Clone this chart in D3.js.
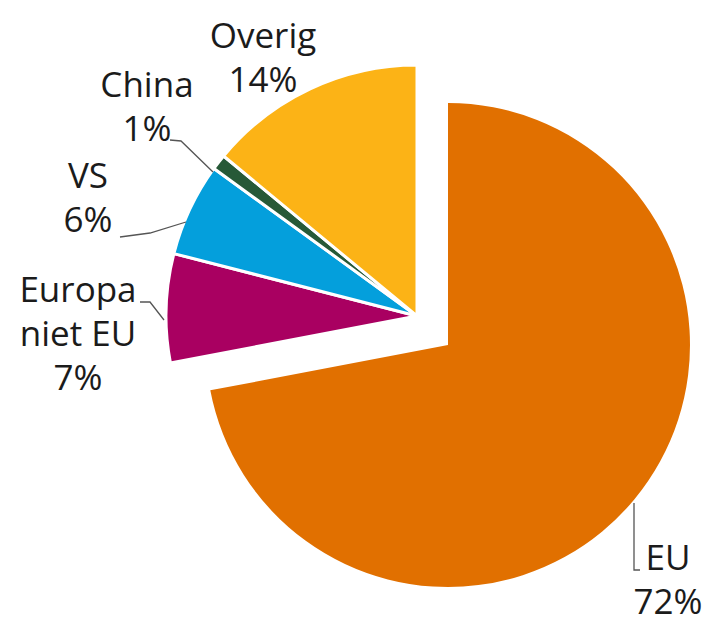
<!DOCTYPE html>
<html>
<head>
<meta charset="utf-8">
<script src="https://cdn.jsdelivr.net/npm/d3@7"></script>
<style>
  body { margin: 0; background: #fff; }
  text { font-family: "Open Sans", sans-serif; fill: #1b1b1b; }
</style>
</head>
<body>
<div id="chart"></div>
<script>
var w = 715;
var h = 625;

// data, clockwise from 12 o'clock
var regions = ["EU", "Europa niet EU", "VS", "China", "Overig"];
var shares = [72, 7, 6, 1, 14];
var colors = ["#e17000", "#a90061", "#049fdc", "#275937", "#fcb316"];

// label lines per region (layout only)
var labelLines = [["EU", "72%"], ["Europa", "niet EU", "7%"], ["VS", "6%"], ["China", "1%"], ["Overig", "14%"]];
var labelAt = [[668, 570], [78, 302], [88, 188], [147, 97], [263, 48]];
var leaders = [
    [[640, 570], [634, 570], [634, 503]],
    [[140, 302], [150, 302], [164, 320]],
    [[120, 237], [150, 233], [186, 222]],
    [[170, 140], [181, 141], [213, 172]],
    []
];

var svg = d3.select("#chart")
    .append("svg")
    .attr("width", w)
    .attr("height", h);

// main slice center and the shifted group of the small slices
var mainCenter = [448, 345], mainR = 242;
var groupCenter = [417, 316], groupR = 251;

var pie = d3.pie().sort(null).value(function(d) { return d; });
var arcs = pie(shares);

var arcMain = d3.arc().innerRadius(0).outerRadius(mainR);
var arcGroup = d3.arc().innerRadius(0).outerRadius(groupR);

arcs.forEach(function(a, i) {
    var isMain = i === 0;
    var c = isMain ? mainCenter : groupCenter;
    svg.append("path")
        .attr("transform", "translate(" + c[0] + "," + c[1] + ")")
        .attr("d", isMain ? arcMain(a) : arcGroup(a))
        .attr("fill", colors[i])
        .attr("stroke", "#fff")
        .attr("stroke-width", isMain ? 0 : 3)
        .attr("stroke-linejoin", "round");
});

// leader lines
var line = d3.line();
leaders.forEach(function(pts) {
    if (!pts.length) return;
    svg.append("path")
        .attr("d", line(pts))
        .attr("fill", "none")
        .attr("stroke", "#555")
        .attr("stroke-width", 1.3);
});

// labels
labelLines.forEach(function(lines, i) {
    var t = svg.append("text")
        .attr("x", labelAt[i][0])
        .attr("y", labelAt[i][1])
        .attr("text-anchor", "middle")
        .style("font-size", "35px");
    lines.forEach(function(s, j) {
        t.append("tspan")
            .attr("x", labelAt[i][0])
            .attr("dy", j === 0 ? 0 : 44)
            .text(s);
    });
});
</script>
</body>
</html>
